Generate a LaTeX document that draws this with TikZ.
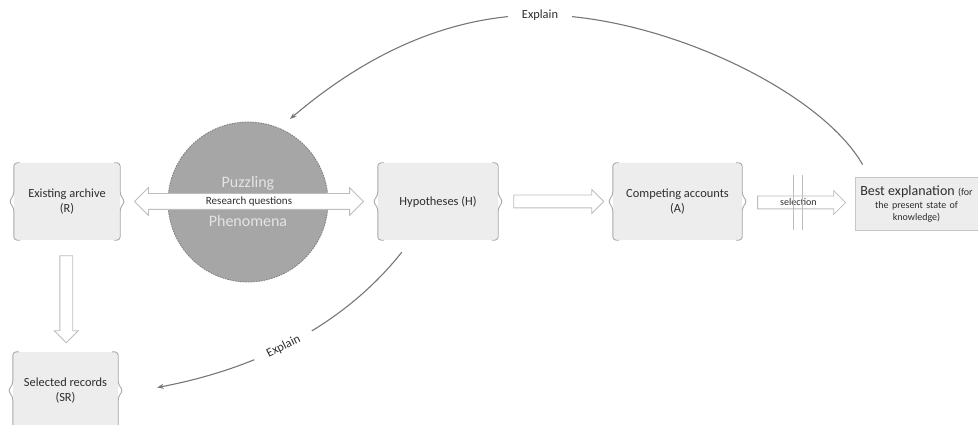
\documentclass[tikz,border=0pt]{standalone}
\usepackage{fontspec}
\setmainfont{Carlito}
\usetikzlibrary{arrows.meta,shapes.arrows,calc}
\definecolor{boxfill}{HTML}{EDEDED}
\definecolor{bracecol}{HTML}{A8A8A8}
\definecolor{circfill}{HTML}{A6A6A6}
\definecolor{circline}{HTML}{7F7F7F}
\definecolor{puztxt}{HTML}{E4E4E4}
\definecolor{txt}{HTML}{2E2E2E}
\definecolor{arcline}{HTML}{767676}
\definecolor{arrline}{HTML}{BDBDBD}
\definecolor{bestline}{HTML}{C6C6C6}

\begin{document}
\begin{tikzpicture}[x=1pt,y=-1pt,
    recbox/.style={fill=boxfill, rounded corners=5pt, minimum height=77pt, align=center,
        text=txt, font=\fontsize{12.4}{15}\selectfont},
    brace/.style={draw=bracecol, line width=0.9pt, rounded corners=3.5pt},
    blockarrow/.style={draw=arrline, fill=white, line width=0.8pt, inner xsep=0pt,
        text=txt, single arrow head extend=5.5pt, single arrow head indent=0pt,
        double arrow head extend=6pt, double arrow head indent=0pt},
    explain/.style={draw=arcline, line width=1.1pt, -{Stealth[length=6.5pt,width=5pt]}},
    arclabel/.style={fill=white, inner xsep=14pt, text=txt, font=\fontsize{12.4}{15}\selectfont}]
    \useasboundingbox (0,0) rectangle (978,425);

    \node[recbox, minimum width=106pt] (arch) at (67,201.5) {Existing archive\\(R)};
    \node[recbox, minimum width=120pt] (hyp) at (438,201.5) {Hypotheses (H)};
    \node[recbox, minimum width=129pt] (comp) at (677.5,201.5) {Competing accounts\\(A)};
    \node[recbox, minimum width=105pt] (sel) at (65.5,390.5) {Selected records\\(SR)};
    \node[draw=bestline, fill=boxfill, line width=0.8pt, minimum width=123pt, minimum height=53pt,
        text width=115pt, align=center, inner sep=2pt, text=txt, font=\fontsize{10}{12}\selectfont]
        (best) at (916.5,203.5) {{\fontsize{14}{15}\selectfont Best explanation} (for\\[1pt]the present state of\\knowledge)};

    \foreach \n in {arch,hyp,comp,sel} {
        \draw[brace] ([xshift=6pt]\n.north west) -- (\n.north west) -- ([yshift=6pt]\n.west)
            -- ([xshift=-5pt]\n.west) -- ([yshift=-6pt]\n.west) -- (\n.south west) -- ([xshift=6pt]\n.south west);
        \draw[brace] ([xshift=-6pt]\n.north east) -- (\n.north east) -- ([yshift=6pt]\n.east)
            -- ([xshift=5pt]\n.east) -- ([yshift=-6pt]\n.east) -- (\n.south east) -- ([xshift=-6pt]\n.south east);
    }

    \node[circle, minimum size=160pt, inner sep=0pt, fill=circfill, draw=circline, line width=0.8pt,
        dash pattern=on 1.6pt off 1pt, align=center, text=puztxt, font=\fontsize{16}{19}\selectfont]
        (puz) at (248,202) {Puzzling\\[20pt]Phenomena};

    \node[blockarrow, double arrow, minimum height=229pt, inner ysep=2.25pt, text height=8pt,
        text depth=2.5pt, font=\fontsize{11}{13}\selectfont]
        (rq) at ($(arch.east)!0.5!(hyp.west)$) {Research questions};
    \node[blockarrow, single arrow, minimum height=90pt, inner ysep=6pt] (hc) at ($(hyp.east)!0.5!(comp.west)$) {};
    \node[blockarrow, single arrow, minimum height=88pt, inner ysep=1.5pt, text height=7pt,
        text depth=2pt, font=\fontsize{10}{12}\selectfont]
        (cb) at ($(comp.east)!0.5!(best.west)$) {selection};
    \node[blockarrow, single arrow, shape border rotate=270, minimum height=87pt, inner xsep=6pt, inner ysep=0pt]
        (as) at ($(arch.south)!0.5!(sel.north)$) {};

    \draw[arrline, line width=1pt] ($(cb.center)+(-4.5,-27.5)$) -- ($(cb.center)+(-4.5,27.5)$);
    \draw[arrline, line width=1pt] ($(cb.center)+(4.5,-27.5)$) -- ($(cb.center)+(4.5,27.5)$);

    \draw[explain, shorten >=14pt] ($(best.north west)+(8,-12)$) .. controls (820,90) and (660,15) .. (540,15)
        node[arclabel] {Explain} .. controls (440,15) and (357,62) .. (puz.67);
    \draw[explain] ($(hyp.south west)+(24,12)$) .. controls (340,330) and (250,370) .. ($(sel.east)+(39,-3)$)
        node[arclabel, pos=0.53, sloped] {Explain};
\end{tikzpicture}
\end{document}
